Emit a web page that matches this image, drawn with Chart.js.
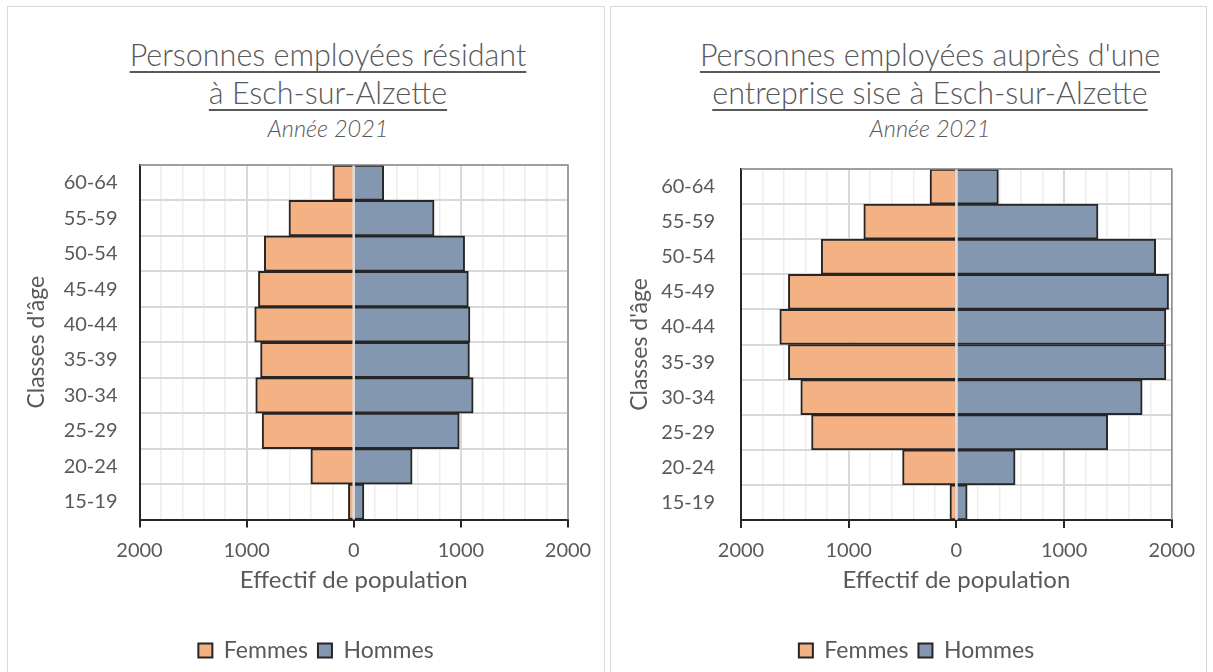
<!DOCTYPE html>
<html><head><meta charset="utf-8">
<script src="https://cdn.jsdelivr.net/npm/chart.js@4.4.1/dist/chart.umd.min.js"></script>
<style>
html,body{margin:0;padding:0;background:#fff;width:1213px;height:672px;overflow:hidden;font-family:Lato,'Noto Sans',sans-serif;}
.panel{position:absolute;border:1px solid #d9d9d9;background:#fff;box-sizing:border-box;}
.title{position:absolute;text-align:center;color:#595959;font-weight:300;font-size:30.5px;line-height:38px;white-space:nowrap;}
.title span{text-decoration:underline;text-decoration-thickness:1.5px;text-underline-offset:5px;}
.sub{position:absolute;text-align:center;color:#595959;font-style:italic;font-weight:300;font-size:23.5px;line-height:30px;white-space:nowrap;}
.wrap{position:absolute;}
</style></head><body>
<div class="panel" style="left:7px;top:6px;width:598px;height:680px"></div>
<div class="panel" style="left:610px;top:6px;width:597px;height:680px"></div>
<div class="title" style="left:78px;top:35px;width:500px"><span>Personnes employées résidant</span><br><span>à Esch-sur-Alzette</span></div>
<div class="sub" style="left:78px;top:113px;width:500px">Année 2021</div>
<div class="title" style="left:680px;top:35px;width:500px"><span>Personnes employées auprès d'une</span><br><span>entreprise sise à Esch-sur-Alzette</span></div>
<div class="sub" style="left:680px;top:113px;width:500px">Année 2021</div>
<div class="wrap" style="left:8px;top:7px;width:596px;height:665px"><canvas id="c1" width="596" height="665"></canvas></div>
<div class="wrap" style="left:611px;top:7px;width:595px;height:665px"><canvas id="c2" width="595" height="665"></canvas></div>
<script>
// ---- Data ----
const ageClasses = ['60-64','55-59','50-54','45-49','40-44','35-39','30-34','25-29','20-24','15-19'];
const residentFemmes = [195,605,835,890,925,870,915,855,400,50];
const residentHommes = [280,750,1035,1070,1085,1080,1115,985,545,95];
const entrepriseFemmes = [245,860,1255,1560,1640,1560,1445,1345,500,60];
const entrepriseHommes = [390,1315,1850,1970,1945,1945,1725,1405,545,100];
const seriesNames = ['Femmes','Hommes'];
const xAxisMin = -2000, xAxisMax = 2000, minorStep = 200, majorStep = 1000;
const xTitle = 'Effectif de population';
const yTitle = "Classes d'âge";

const FONT = "Lato, 'Noto Sans', sans-serif";
const GRAY = '#595959';

const framePlugin = {
  id: 'frame',
  afterLayout(chart, args, opts) {
    const lg = chart.legend;
    if (lg && opts && opts.legendShift) { lg.left += opts.legendShift; lg.right += opts.legendShift; }
  },
  afterDatasetsDraw(chart) {
    const {ctx, chartArea: a, scales: {x}} = chart;
    ctx.save();
    const x0 = x.getPixelForValue(0);
    ctx.strokeStyle = '#dcdcdc'; ctx.lineWidth = 2;
    ctx.beginPath(); ctx.moveTo(x0, a.top); ctx.lineTo(x0, a.bottom); ctx.stroke();
    ctx.strokeStyle = '#8c8c8c'; ctx.lineWidth = 1.5;
    ctx.beginPath(); ctx.moveTo(a.left, a.top); ctx.lineTo(a.right, a.top); ctx.lineTo(a.right, a.bottom); ctx.stroke();
    ctx.restore();
  }
};

function makeChart(id, femmes, hommes, L) {
  new Chart(document.getElementById(id), {
    type: 'bar',
    data: {
      labels: ageClasses,
      datasets: [
        {label: seriesNames[0], data: femmes.map(v => -v), backgroundColor: '#F4B183', borderColor: '#262626', borderWidth: 2, barPercentage: 1, categoryPercentage: 1},
        {label: seriesNames[1], data: hommes, backgroundColor: '#8497B0', borderColor: '#262626', borderWidth: 2, barPercentage: 1, categoryPercentage: 1}
      ]
    },
    options: {
      indexAxis: 'y',
      responsive: false,
      animation: false,
      layout: {padding: {left: 0, right: L.padRight, top: L.padTop, bottom: 0}},
      plugins: {
        tooltip: {enabled: false},
        frame: {legendShift: L.legendShift},
        legend: {
          position: 'bottom',
          labels: {boxWidth: 14, boxHeight: 14, color: GRAY, font: {family: FONT, size: 23}, padding: 10}
        }
      },
      scales: {
        x: {
          stacked: true,
          min: xAxisMin, max: xAxisMax,
          afterFit(s) { s.height = L.xHeight; },
          ticks: {
            stepSize: minorStep, autoSkip: false, maxRotation: 0, padding: L.xTickPad,
            color: GRAY, font: {family: FONT, size: 20},
            callback: v => (v % majorStep === 0 ? String(Math.abs(v)) : '')
          },
          grid: {
            color: c => (c.tick && c.tick.value % majorStep === 0 ? '#d9d9d9' : '#ededed'),
            lineWidth: c => (c.tick && c.tick.value % majorStep === 0 ? 2 : 1.5),
            tickColor: c => (c.tick && c.tick.value % majorStep === 0 ? '#262626' : 'rgba(0,0,0,0)'),
            tickWidth: 2, tickLength: 8
          },
          border: {color: '#262626', width: 2},
          title: {display: true, text: xTitle, color: GRAY, font: {family: FONT, size: 24}, padding: {top: 0, bottom: L.xTitlePad}}
        },
        y: {
          stacked: true,
          afterFit(s) { s.width = L.yWidth; },
          ticks: {color: GRAY, font: {family: FONT, size: 20}, padding: L.yTickPad},
          grid: {color: '#d9d9d9', lineWidth: 2, drawTicks: false},
          border: {color: '#262626', width: 2},
          title: {display: true, text: yTitle, color: GRAY, font: {family: FONT, size: 23}, padding: {top: 15, bottom: 0}}
        }
      }
    },
    plugins: [framePlugin]
  });
}

makeChart('c1', residentFemmes, residentHommes, {padRight: 36, padTop: 158, xHeight: 109.5, xTitlePad: 34.5, xTickPad: 11.5, yWidth: 131.5, yTickPad: 22, legendShift: 28});
makeChart('c2', entrepriseFemmes, entrepriseHommes, {padRight: 34, padTop: 162, xHeight: 109, xTitlePad: 34.5, xTickPad: 11, yWidth: 130, yTickPad: 26, legendShift: 25});
</script>
</body></html>
